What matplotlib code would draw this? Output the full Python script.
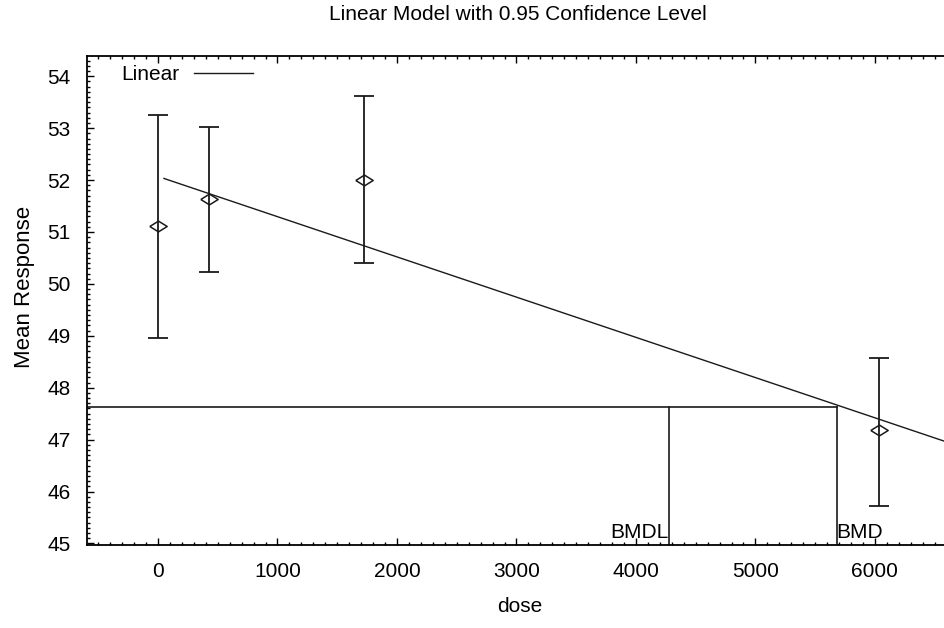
import numpy as np
import matplotlib.pyplot as plt
from matplotlib.ticker import MultipleLocator

# observed group means with 95% confidence limits
dose = [0, 430, 1720, 6030]
mean = [51.12, 51.63, 52.01, 47.19]
upper = [53.26, 53.03, 53.62, 48.58]
lower = [48.96, 50.22, 50.40, 45.72]

# fitted linear model and benchmark doses
intercept = 52.07
slope = -0.000775
fit_start = 50
bmr_level = 47.63
bmd = 5680
bmdl = 4276

plt.rcParams['font.family'] = ['Liberation Sans', 'DejaVu Sans']
plt.rcParams['font.size'] = 15

fig = plt.figure(figsize=(9.44, 6.28), dpi=100)
ax = fig.add_axes([87 / 944, 83 / 628, (952 - 87) / 944, (545 - 56) / 628])

xmin, xmax = -594, 6645
ymin, ymax = 44.97, 54.39
ax.set_xlim(xmin, xmax)
ax.set_ylim(ymin, ymax)

ink = '#1a1a1a'

# linear fit
xs = np.linspace(fit_start, xmax, 200)
ax.plot(xs, intercept + slope * xs, color=ink, lw=1.0, label='Linear')

# error bars and means
m = np.array(mean)
yerr = [m - np.array(lower), np.array(upper) - m]
ax.errorbar(dose, mean, yerr=yerr, fmt='none', ecolor=ink, elinewidth=1.3,
            capsize=7, capthick=1.3)
diamond = [(-1, 0), (0, 0.62), (1, 0), (0, -0.62), (-1, 0)]
ax.plot(dose, mean, linestyle='none', marker=diamond, markersize=12.5,
        markerfacecolor='none', markeredgecolor=ink, markeredgewidth=1.1)

# BMD / BMDL markers
ax.plot([xmin, bmd], [bmr_level, bmr_level], color=ink, lw=1.2)
ax.plot([bmdl, bmdl], [ymin, bmr_level], color=ink, lw=1.2)
ax.plot([bmd, bmd], [ymin, bmr_level], color=ink, lw=1.2)
ax.text(bmdl, 45.03, 'BMDL', ha='right', va='bottom', fontsize=15)
ax.text(bmd, 45.03, 'BMD', ha='left', va='bottom', fontsize=15)

ax.xaxis.set_major_locator(MultipleLocator(1000))
ax.xaxis.set_minor_locator(MultipleLocator(100))
ax.yaxis.set_major_locator(MultipleLocator(1))
ax.yaxis.set_minor_locator(MultipleLocator(0.1))
ax.tick_params(which='both', direction='in', top=True, right=False, width=1.0)
ax.tick_params(which='major', length=5, labelsize=15)
ax.tick_params(which='minor', length=2.5)
ax.tick_params(axis='x', pad=12)
ax.tick_params(axis='y', pad=12)
for s in ['left', 'bottom', 'top']:
    ax.spines[s].set_linewidth(1.3)
ax.spines['right'].set_visible(False)

ax.set_xlabel('dose', fontsize=15, labelpad=12)
ax.set_ylabel('Mean Response', fontsize=16)
ax.yaxis.set_label_coords(-0.06, 0.528)
fig.text(518 / 944, 1 - 15 / 628, 'Linear Model with 0.95 Confidence Level',
         ha='center', va='center', fontsize=15)

ax.legend(loc='center left', frameon=False, markerfirst=False, handlelength=2.83,
          handletextpad=0.72, borderpad=0, borderaxespad=0,
          bbox_to_anchor=(121 / 944, 1 - 75 / 628), bbox_transform=fig.transFigure,
          fontsize=15)

fig.savefig('out.png', dpi=100)
